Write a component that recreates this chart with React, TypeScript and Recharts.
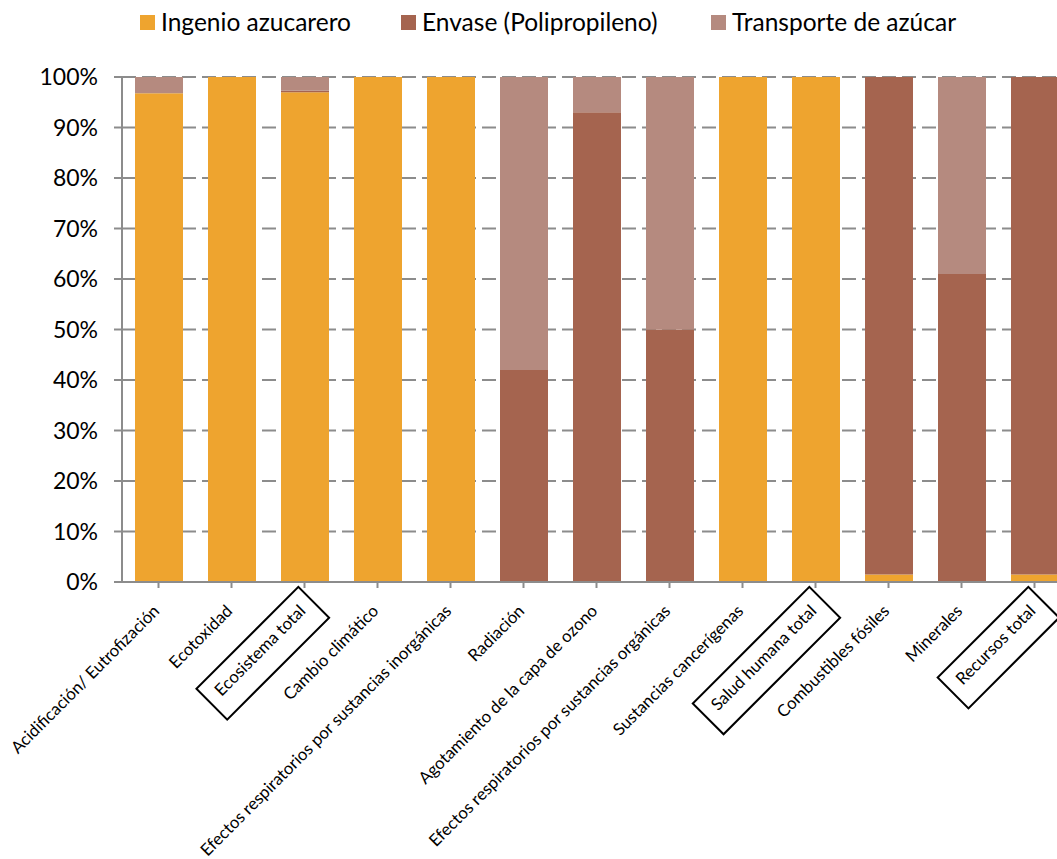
import React from "react"
import { BarChart, Bar, XAxis, YAxis, CartesianGrid } from "recharts"

// impact categories along the x axis
const categories = [
  "Acidificación/ Eutrofización",
  "Ecotoxidad",
  "Ecosistema total",
  "Cambio climático",
  "Efectos respiratorios por sustancias inorgánicas",
  "Radiación",
  "Agotamiento de la capa de ozono",
  "Efectos respiratorios por sustancias orgánicas",
  "Sustancias cancerígenas",
  "Salud humana total",
  "Combustibles fósiles",
  "Minerales",
  "Recursos total",
]

// category totals that get a frame around their label
const totals = ["Ecosistema total", "Salud humana total", "Recursos total"]

// share of each stage, in %
const ingenio = [96.8, 100, 97.0, 100, 100, 0, 0, 0, 100, 100, 1.5, 0, 1.5]
const envase = [0, 0, 0.3, 0, 0, 42, 93, 50, 0, 0, 98.5, 61, 98.5]
const transporte = [3.2, 0, 2.7, 0, 0, 58, 7, 50, 0, 0, 0, 39, 0]

const yTicks = [0, 10, 20, 30, 40, 50, 60, 70, 80, 90, 100]

const series = [
  { key: "ingenio", name: "Ingenio azucarero", color: "#EEA42F" },
  { key: "envase", name: "Envase (Polipropileno)", color: "#A5644F" },
  { key: "transporte", name: "Transporte de azúcar", color: "#B58A7F" },
]

const data = categories.map((name, i) => ({
  name,
  ingenio: ingenio[i],
  envase: envase[i],
  transporte: transporte[i],
}))

const FONT = "Lato, 'Open Sans', sans-serif"
const LABEL_SIZE = 16.8

let measureCtx: CanvasRenderingContext2D | null = null
function textWidth(text: string, size: number) {
  if (!measureCtx) measureCtx = document.createElement("canvas").getContext("2d")
  if (!measureCtx) return text.length * size * 0.5
  measureCtx.font = `${size}px ${FONT}`
  return measureCtx.measureText(text).width
}

// rotated category label; totals get a frame drawn around them
function CategoryTick({ x, y, payload }: any) {
  const label = payload.value as string
  const boxed = totals.includes(label)
  const w = textWidth(label, LABEL_SIZE)
  return (
    <g transform={`translate(${x + 2},${y + 24})`}>
      <g transform="rotate(-45)">
        {boxed && (
          <rect x={-w - 12} y={-23.5} width={w + 24} height={43.5} fill="none" stroke="#000" strokeWidth={2} />
        )}
        <text x={0} y={0} textAnchor="end" fontSize={LABEL_SIZE} fontFamily={FONT} fill="#000">
          {label}
        </text>
      </g>
    </g>
  )
}

function LegendRow() {
  const lefts = [140, 401, 711]
  return (
    <div style={{ position: "absolute", left: 0, top: 0, width: 1057, height: 50 }}>
      {series.map((s, i) => (
        <div
          key={s.key}
          style={{
            position: "absolute",
            left: lefts[i],
            top: 6,
            display: "flex",
            alignItems: "center",
            fontFamily: FONT,
            fontSize: 24.5,
            lineHeight: "32px",
            color: "#000",
            whiteSpace: "nowrap",
          }}
        >
          <span style={{ width: 15, height: 15, background: s.color, marginRight: 6, display: "inline-block" }} />
          {s.name}
        </div>
      ))}
    </div>
  )
}

export default function App() {
  return (
    <div style={{ position: "absolute", left: 0, top: 0, width: 1057, height: 859, overflow: "hidden", background: "#fff" }}>
      <LegendRow />
      <BarChart
        width={1071}
        height={859}
        data={data}
        margin={{ top: 77, right: 0, bottom: 0, left: 0 }}
        barSize={48}
      >
        <CartesianGrid vertical={false} stroke="#8c8c8c" strokeWidth={2} strokeDasharray="14 6" />
        <YAxis
          width={122}
          domain={[0, 100]}
          ticks={yTicks}
          interval={0}
          tickFormatter={(v: number) => `${v}%`}
          axisLine={{ stroke: "#8c8c8c", strokeWidth: 2 }}
          tickLine={{ stroke: "#8c8c8c", strokeWidth: 2 }}
          tickSize={8}
          tickMargin={16}
          tick={{ fill: "#000", fontSize: 23, fontFamily: FONT }}
        />
        <XAxis
          dataKey="name"
          height={277}
          interval={0}
          axisLine={{ stroke: "#8c8c8c", strokeWidth: 2 }}
          tickLine={{ stroke: "#8c8c8c", strokeWidth: 2 }}
          tickSize={6}
          tickMargin={0}
          tick={<CategoryTick />}
        />
        {series.map((s) => (
          <Bar key={s.key} dataKey={s.key} name={s.name} stackId="a" fill={s.color} isAnimationActive={false} />
        ))}
      </BarChart>
    </div>
  )
}
